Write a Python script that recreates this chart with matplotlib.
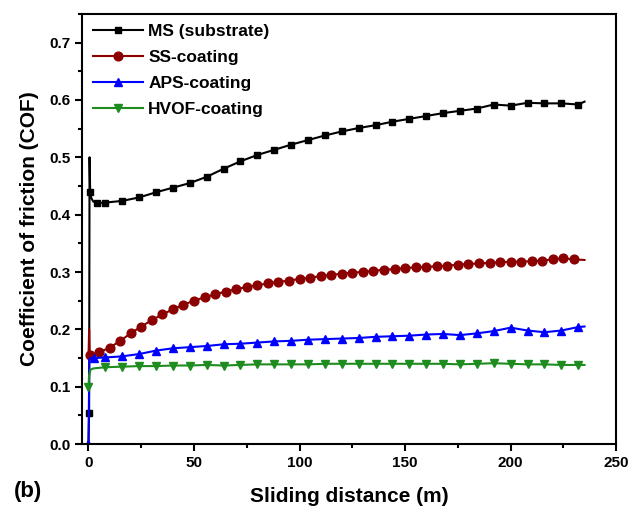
import matplotlib
matplotlib.use("Agg")
import matplotlib.pyplot as plt
from matplotlib.ticker import MultipleLocator
import numpy as np

plt.rcParams['font.family'] = ['Liberation Sans', 'DejaVu Sans']
plt.rcParams['font.weight'] = 'bold'

# ---- data: sliding distance (m) and COF ----
ms_x = [0, 0.3, 0.5, 0.8, 1.2, 2.2, 4, 8, 16, 24, 32, 40, 48, 56, 64, 72, 80, 88, 96,
        104, 112, 120, 128, 136, 144, 152, 160, 168, 176, 184, 192, 200, 208, 216,
        224, 232, 235]
ms_y = [0.0, 0.055, 0.50, 0.44, 0.43, 0.423, 0.420, 0.421, 0.424, 0.430, 0.439, 0.447,
        0.455, 0.466, 0.480, 0.493, 0.504, 0.513, 0.522, 0.530, 0.538, 0.545, 0.551,
        0.556, 0.562, 0.567, 0.572, 0.577, 0.581, 0.585, 0.592, 0.590, 0.595, 0.594,
        0.594, 0.592, 0.597]
ms_marks = [1, 3] + list(range(6, 36))

ss_x = [0, 0.3, 0.6, 1.5, 3] + list(range(5, 240, 5))
ss_y = [0.15, 0.20, 0.155, 0.155, 0.157,
        0.160, 0.168, 0.180, 0.193, 0.205, 0.216, 0.226, 0.235, 0.243, 0.250,
        0.256, 0.261, 0.266, 0.270, 0.274, 0.277, 0.280, 0.283, 0.285, 0.288,
        0.290, 0.293, 0.295, 0.297, 0.299, 0.300, 0.302, 0.304, 0.305, 0.307,
        0.308, 0.309, 0.310, 0.311, 0.313, 0.314, 0.315, 0.316, 0.317, 0.318,
        0.318, 0.319, 0.320, 0.322, 0.324, 0.322, 0.321]
ss_marks = [2] + list(range(5, 51))

aps_x = [0, 0.4, 1, 2.5, 8, 16, 24, 32, 40, 48, 56, 64, 72, 80, 88, 96, 104, 112, 120,
         128, 136, 144, 152, 160, 168, 176, 184, 192, 200, 208, 216, 224, 232, 235]
aps_y = [0.0, 0.148, 0.150, 0.150, 0.151, 0.153, 0.157, 0.163, 0.167, 0.169, 0.171,
         0.174, 0.175, 0.177, 0.179, 0.180, 0.182, 0.183, 0.184, 0.185, 0.187, 0.188,
         0.189, 0.191, 0.192, 0.190, 0.193, 0.197, 0.203, 0.198, 0.195, 0.198, 0.204,
         0.205]
aps_marks = [0] + list(range(3, 33, 1))

hvof_x = [0, 0.3, 1, 2.5, 8, 16, 24, 32, 40, 48, 56, 64, 72, 80, 88, 96, 104, 112, 120,
          128, 136, 144, 152, 160, 168, 176, 184, 192, 200, 208, 216, 224, 232, 235]
hvof_y = [0.10, 0.12, 0.13, 0.132, 0.134, 0.135, 0.136, 0.136, 0.137, 0.137, 0.138,
          0.137, 0.138, 0.139, 0.139, 0.139, 0.139, 0.140, 0.140, 0.140, 0.140, 0.140,
          0.140, 0.140, 0.140, 0.139, 0.140, 0.141, 0.140, 0.139, 0.139, 0.138, 0.138,
          0.138]
hvof_marks = [0] + list(range(4, 33))

labels = ['MS (substrate)', 'SS-coating', 'APS-coating', 'HVOF-coating']
colors = ['#000000', '#8B0000', '#0000FF', '#1E8C1E']
markers = ['s', 'o', '^', 'v']
msizes = [4.8, 6.3, 6.3, 6.3]

series = [(ms_x, ms_y, ms_marks), (ss_x, ss_y, ss_marks),
          (aps_x, aps_y, aps_marks), (hvof_x, hvof_y, hvof_marks)]

fig = plt.figure(figsize=(6.32, 5.14), dpi=100)
ax = fig.add_axes([0.130, 0.136, 0.845, 0.837])

for (x, y, mk), lab, c, m, ms in zip(series, labels, colors, markers, msizes):
    ax.plot(x, y, color=c, marker=m, markersize=ms, lw=1.5, markevery=mk, label=lab)

ax.set_xlim(-3, 250)
ax.set_ylim(0, 0.75)
ax.xaxis.set_major_locator(MultipleLocator(50))
ax.xaxis.set_minor_locator(MultipleLocator(25))
ax.yaxis.set_minor_locator(MultipleLocator(0.05))
yt = np.arange(0, 0.71, 0.1)
ax.set_yticks(yt)
ax.set_yticklabels([f'{v:.1f}' for v in yt])
ax.tick_params(axis='both', which='major', direction='out', length=5, width=1.5, labelsize=11)
ax.tick_params(axis='both', which='minor', direction='out', length=3, width=1.5)
for s in ax.spines.values():
    s.set_linewidth(1.5)
for lab in ax.get_xticklabels() + ax.get_yticklabels():
    lab.set_fontweight('bold')

ax.set_xlabel('Sliding distance (m)', fontsize=15, fontweight='bold', labelpad=12)
ax.set_ylabel('Coefficient of friction (COF)', fontsize=15, fontweight='bold', labelpad=7)

leg = ax.legend(loc='upper left', frameon=False, fontsize=12.5, handlelength=2.9,
                borderaxespad=0.2, labelspacing=0.62, handletextpad=0.3,
                bbox_to_anchor=(0.0, 1.0))
for t in leg.get_texts():
    t.set_fontweight('bold')

fig.text(0.022, 0.033, '(b)', fontsize=16, fontweight='bold')

fig.savefig('out.png', dpi=100)
